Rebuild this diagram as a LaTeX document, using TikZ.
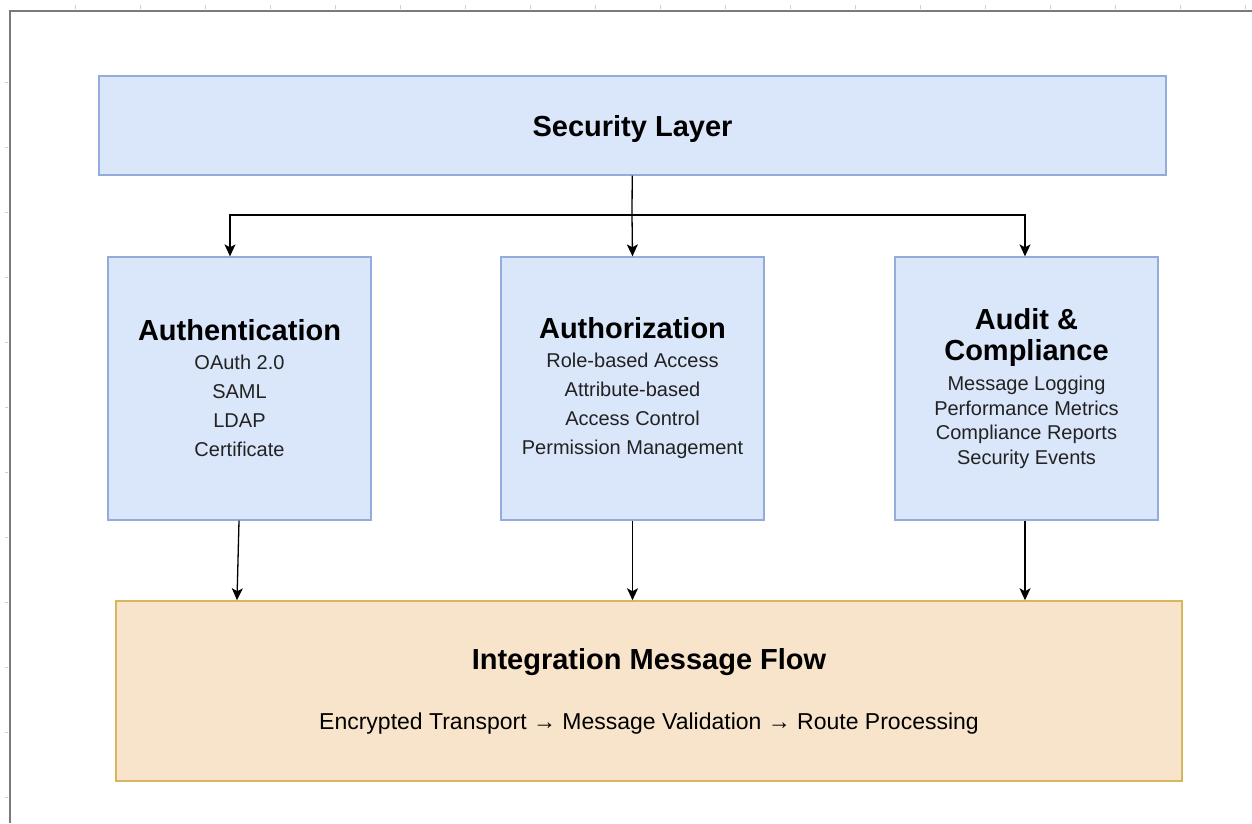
\documentclass[tikz,border=0pt]{standalone}
\usepackage{fontspec}
\setmainfont{Liberation Sans}
\usetikzlibrary{arrows.meta}

\definecolor{layerfill}{HTML}{DAE6FA}
\definecolor{layerline}{HTML}{94ACDB}
\definecolor{flowfill}{HTML}{F8E4CA}
\definecolor{flowline}{HTML}{D9B55E}
\definecolor{framegray}{HTML}{7A7A7A}
\definecolor{tickgray}{HTML}{D0D0D0}
\definecolor{itemgray}{HTML}{222222}

\newcommand*{\boxtitle}{\fontsize{29}{31}\selectfont\bfseries\color{black}}

\begin{document}
\begin{tikzpicture}
[
	x=1pt, y=-1pt,
	layer/.style={draw=layerline,fill=layerfill,line width=1.3pt,inner sep=0pt,align=center},
	card/.style={layer,minimum width=263pt,minimum height=263pt,text=itemgray,
		font=\fontsize{20}{29}\selectfont},
	flowbox/.style={draw=flowline,fill=flowfill,line width=1.5pt,inner sep=0pt,align=center,
		minimum width=1066pt,minimum height=180pt,font=\fontsize{23}{24}\selectfont},
	arrow/.style={-{Stealth[length=12pt,width=11pt,inset=3pt]},line width=1.3pt}
]
	\useasboundingbox (0,0) rectangle (1252,823);

	% page frame
	\foreach \x in {75,140,...,1250}
		\draw[tickgray] (\x,5) -- (\x,9);
	\foreach \y in {82,147,...,820}
		\draw[tickgray] (5,\y) -- (8,\y);
	\draw[framegray,line width=2pt] (9.5,823) -- (9.5,10.5) -- (1252,10.5);

	% boxes
	\node[layer,minimum width=1067pt,minimum height=99pt,text depth=0pt] at (632.5,125.5) (security) {\boxtitle Security Layer};

	\node[card] at (239.5,388.5) (authn) {\boxtitle Authentication\\
		OAuth 2.0\\ SAML\\ LDAP\\ Certificate};
	\node[card] at (632.5,388.5) (authz) {\boxtitle Authorization\\
		Role-based Access\\ Attribute-based\\ Access Control\\ Permission Management};
	\node[card,font=\fontsize{20}{24.5}\selectfont] at (1026.5,388.5) (audit) {\boxtitle Audit \&\\[6.5pt] \boxtitle Compliance\\[6pt]
		Message Logging\\ Performance Metrics\\ Compliance Reports\\ Security Events};

	\node[flowbox] at (649,691) (flow) {\boxtitle Integration Message Flow\\[36pt]
		Encrypted Transport → Message Validation → Route Processing};

	% connectors
	\coordinate (split) at (632,215);
	\draw[line width=1.3pt] (security) -- (split);
	\draw[arrow] (split) -| ([xshift=-9.5pt]authn.north);
	\draw[arrow] (split) -- (authz.north);
	\draw[arrow] (split) -| ([xshift=-1.5pt]audit.north);

	\draw[arrow] ([xshift=-0.5pt]authn.south) -- ([xshift=-2.5pt]authn.south |- flow.north);
	\draw[arrow] (authz.south) -- (authz.south |- flow.north);
	\draw[arrow] ([xshift=-1.5pt]audit.south) -- ([xshift=-1.5pt]audit.south |- flow.north);
\end{tikzpicture}
\end{document}
